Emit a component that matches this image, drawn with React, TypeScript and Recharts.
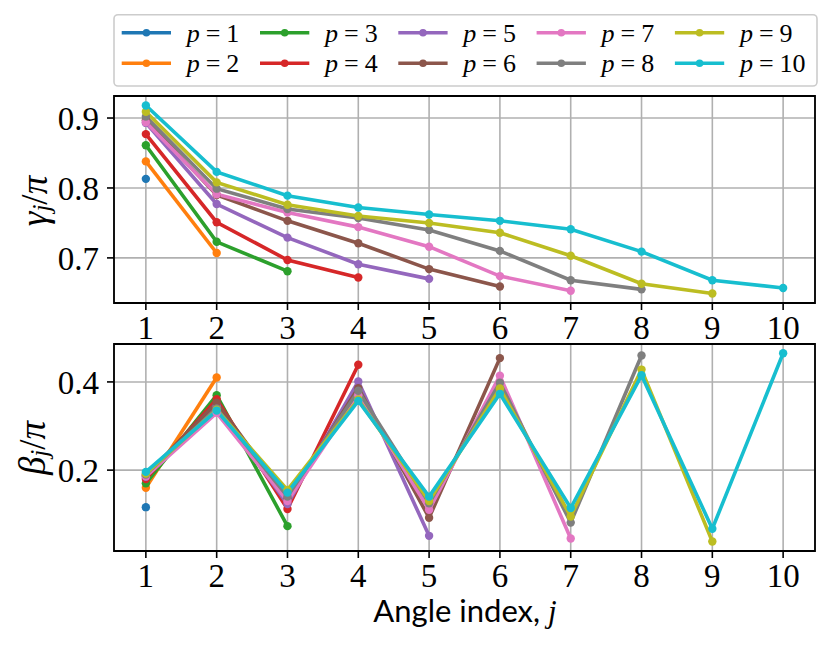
import React from 'react';
import {
    LineChart,
    Line,
    XAxis,
    YAxis,
    CartesianGrid,
    ReferenceArea
} from 'recharts';

// angle index j
const J = [1, 2, 3, 4, 5, 6, 7, 8, 9, 10];

// gamma_j / pi, one array per circuit depth p
const gamma1 = [0.813];
const gamma2 = [0.838, 0.707];
const gamma3 = [0.861, 0.723, 0.681];
const gamma4 = [0.877, 0.751, 0.697, 0.672];
const gamma5 = [0.893, 0.777, 0.729, 0.691, 0.670];
const gamma6 = [0.897, 0.790, 0.753, 0.721, 0.684, 0.659];
const gamma7 = [0.894, 0.791, 0.765, 0.744, 0.716, 0.674, 0.653];
const gamma8 = [0.902, 0.799, 0.770, 0.757, 0.740, 0.710, 0.668, 0.655];
const gamma9 = [0.909, 0.808, 0.776, 0.760, 0.750, 0.736, 0.703, 0.663, 0.649];
const gamma10 = [0.918, 0.823, 0.789, 0.772, 0.762, 0.753, 0.741, 0.709, 0.668, 0.657];

// beta_j / pi
const beta1 = [0.116];
const beta2 = [0.160, 0.410];
const beta3 = [0.170, 0.370, 0.073];
const beta4 = [0.180, 0.361, 0.112, 0.439];
const beta5 = [0.185, 0.345, 0.123, 0.401, 0.051];
const beta6 = [0.188, 0.353, 0.135, 0.386, 0.092, 0.454];
const beta7 = [0.186, 0.330, 0.130, 0.370, 0.110, 0.414, 0.045];
const beta8 = [0.190, 0.340, 0.140, 0.380, 0.125, 0.398, 0.081, 0.460];
const beta9 = [0.192, 0.337, 0.155, 0.360, 0.130, 0.385, 0.095, 0.428, 0.038];
const beta10 = [0.196, 0.335, 0.149, 0.357, 0.140, 0.373, 0.114, 0.415, 0.067, 0.465];

const GAMMAS = [gamma1, gamma2, gamma3, gamma4, gamma5, gamma6, gamma7, gamma8, gamma9, gamma10];
const BETAS = [beta1, beta2, beta3, beta4, beta5, beta6, beta7, beta8, beta9, beta10];

const GAMMA_TICKS = [0.7, 0.8, 0.9];
const BETA_TICKS = [0.2, 0.4];

const COLORS = ['#1f77b4', '#ff7f0e', '#2ca02c', '#d62728', '#9467bd', '#8c564b', '#e377c2', '#7f7f7f', '#bcbd22', '#17becf'];

const SERIF = '"Liberation Serif", "DejaVu Serif", serif';
const SANS = 'Lato, "Open Sans", sans-serif';

const X_DOMAIN: [number, number] = [0.55, 10.45];
const GAMMA_DOMAIN: [number, number] = [0.6355, 0.9315];
const BETA_DOMAIN: [number, number] = [0.0166, 0.486];

const toRows = (series: number[][]) =>
    J.map((j, i) => {
        const row: Record<string, number> = { j };
        series.forEach((vals, s) => {
            if (i < vals.length) row[`p${s + 1}`] = vals[i];
        });
        return row;
    });

const gammaRows = toRows(GAMMAS);
const betaRows = toRows(BETAS);

const tickStyle = { fill: '#000', fontSize: 33, fontFamily: SERIF };
const tickLine = { stroke: '#000', strokeWidth: 1.6 };

type PanelProps = {
    rows: Record<string, number>[];
    yDomain: [number, number];
    yTicks: number[];
    height: number;
    marginTop: number;
    xAxisHeight: number;
};

const Panel = ({ rows, yDomain, yTicks, height, marginTop, xAxisHeight }: PanelProps) => (
    <LineChart
        width={830}
        height={height}
        data={rows}
        margin={{ top: marginTop, right: 15, left: 0, bottom: 0 }}
    >
        <CartesianGrid stroke="#b0b0b0" strokeWidth={1.6} />
        <XAxis
            dataKey="j"
            type="number"
            domain={X_DOMAIN}
            ticks={J}
            interval={0}
            allowDataOverflow
            axisLine={false}
            tickLine={tickLine}
            tickSize={7}
            tickMargin={6}
            height={xAxisHeight}
            tick={tickStyle}
        />
        <YAxis
            type="number"
            domain={yDomain}
            ticks={yTicks}
            interval={0}
            allowDataOverflow
            axisLine={false}
            tickLine={tickLine}
            tickSize={7}
            tickMargin={8}
            width={114}
            tick={tickStyle}
            tickFormatter={(v: number) => v.toFixed(1)}
        />
        <ReferenceArea
            x1={X_DOMAIN[0]}
            x2={X_DOMAIN[1]}
            y1={yDomain[0]}
            y2={yDomain[1]}
            fill="none"
            stroke="#000"
            strokeWidth={1.8}
        />
        {COLORS.map((c, s) => (
            <Line
                key={s}
                type="linear"
                dataKey={`p${s + 1}`}
                stroke={c}
                strokeWidth={3.6}
                dot={{ r: 4.2, fill: c, stroke: c, strokeWidth: 0 }}
                activeDot={false}
                isAnimationActive={false}
            />
        ))}
    </LineChart>
);

const LegendBox = () => (
    <g>
        <rect x={114} y={14.7} width={703} height={71.3} rx={4} fill="#fff" fillOpacity={0.8} stroke="#cccccc" strokeWidth={1.6} />
        {COLORS.map((c, s) => {
            const col = Math.floor(s / 2);
            const row = s % 2;
            const x0 = 121.7 + col * 138.3;
            const y = 32.7 + row * 30.6;
            return (
                <g key={s}>
                    <line x1={x0} x2={x0 + 49.3} y1={y} y2={y} stroke={c} strokeWidth={3.6} />
                    <circle cx={x0 + 24.7} cy={y} r={3.8} fill={c} />
                    <text x={x0 + 65} y={y + 9} fontFamily={SERIF} fontSize={26} fill="#000">
                        <tspan fontStyle="italic">p</tspan>
                        <tspan dx={6}>=</tspan>
                        <tspan dx={6}>{s + 1}</tspan>
                    </text>
                </g>
            );
        })}
    </g>
);

export default function App() {
    return (
        <div style={{ position: 'absolute', left: 0, top: 0, width: 830, height: 649, background: '#fff' }}>
            <div style={{ position: 'absolute', left: 0, top: 0 }}>
                <Panel rows={gammaRows} yDomain={GAMMA_DOMAIN} yTicks={GAMMA_TICKS} height={350} marginTop={96} xAxisHeight={47} />
            </div>
            <div style={{ position: 'absolute', left: 0, top: 300 }}>
                <Panel rows={betaRows} yDomain={BETA_DOMAIN} yTicks={BETA_TICKS} height={300} marginTop={44} xAxisHeight={49} />
            </div>
            <svg width={830} height={649} style={{ position: 'absolute', left: 0, top: 0, pointerEvents: 'none' }}>
                <LegendBox />
                <text
                    transform="translate(34,201) rotate(-90)"
                    textAnchor="middle"
                    dominantBaseline="central"
                    fontFamily={SERIF}
                    fontSize={37}
                    fill="#000"
                >
                    <tspan fontStyle="italic">γ</tspan>
                    <tspan fontStyle="italic" fontSize={25} dy={7}>j</tspan>
                    <tspan dy={-7}>/</tspan>
                    <tspan fontStyle="italic">π</tspan>
                </text>
                <text
                    transform="translate(32,448) rotate(-90)"
                    textAnchor="middle"
                    dominantBaseline="central"
                    fontFamily={SERIF}
                    fontSize={37}
                    fill="#000"
                >
                    <tspan fontStyle="italic">β</tspan>
                    <tspan fontStyle="italic" fontSize={25} dy={7}>j</tspan>
                    <tspan dy={-7}>/</tspan>
                    <tspan fontStyle="italic">π</tspan>
                </text>
                <text x={465} y={622} textAnchor="middle" fontFamily={SANS} fontSize={31} fill="#000">
                    Angle index,
                    <tspan dx={8} fontFamily={SERIF} fontStyle="italic">j</tspan>
                </text>
            </svg>
        </div>
    );
}
